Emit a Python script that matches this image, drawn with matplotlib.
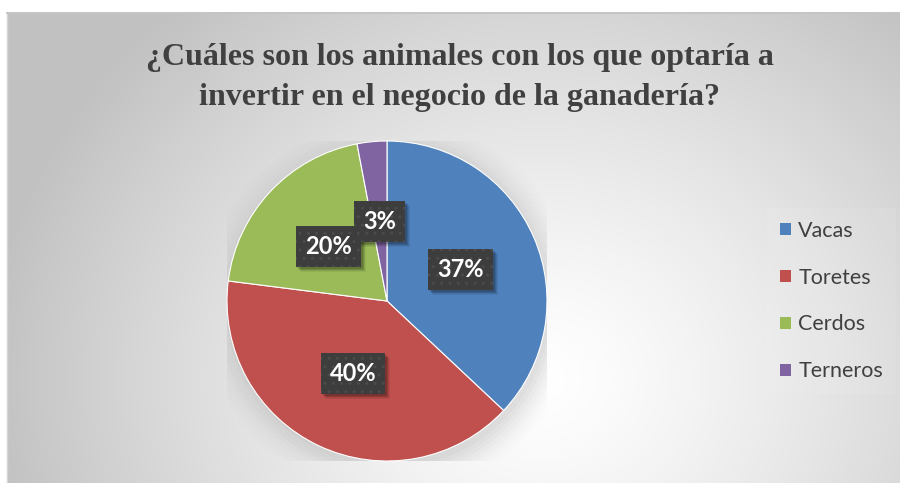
import numpy as np
import matplotlib
matplotlib.use("Agg")
import matplotlib.pyplot as plt
from matplotlib.patches import Patch, Rectangle, Circle
from matplotlib.transforms import IdentityTransform

# ---- data ----
categories = ["Vacas", "Toretes", "Cerdos", "Terneros"]
values = [37, 40, 20, 3]
colors = ["#4F81BD", "#C0504D", "#9BBB59", "#8064A2"]
title_lines = ["¿Cuáles son los animales con los que optaría a",
               "invertir en el negocio de la ganadería?"]

W, H = 900, 483
fig = plt.figure(figsize=(W / 100, H / 100), dpi=100)
fig.patch.set_facecolor("white")

# ---- chart-area background (radial gradient) ----
x0, y0, x1, y1 = 7, 0, 900, 470  # pixels from bottom-left
bg = fig.add_axes([x0 / W, y0 / H, (x1 - x0) / W, (y1 - y0) / H])
bg.set_zorder(-10)
nx, ny = 450, 240
xx, yy = np.meshgrid(np.linspace(0, 1, nx), np.linspace(0, 1, ny))
cx, cy = 0.6, 0.22
d = np.sqrt(((xx - cx) / 0.62) ** 2 + ((yy - cy) / 1.05) ** 2)
d = np.clip(d, 0, 1)
val = 1.0 - 0.24 * d ** 1.3
img = np.dstack([val, val, val])
bg.imshow(img, origin="lower", aspect="auto", extent=[0, 1, 0, 1])
bg.set_xlim(0, 1); bg.set_ylim(0, 1)
bg.axis("off")
fig.add_artist(plt.Line2D([x0 / W, x0 / W], [0, y1 / H], color="#d6d6d6", lw=1))
fig.add_artist(plt.Line2D([x0 / W, 1], [y1 / H, y1 / H], color="#c4c4c4", lw=1.4))

# ---- pie ----
pcx, pcy, r = 387, H - 301, 160
ax = fig.add_axes([(pcx - r) / W, (pcy - r) / H, 2 * r / W, 2 * r / H])
ax.set_zorder(1)
# soft shadow
for i, a in enumerate(np.linspace(0.05, 0.01, 8)):
    ax.add_patch(Circle((0.02, -0.04), 1.0 + 0.025 * i, color="#808080", alpha=a, lw=0, zorder=0))
wedges, texts, autotexts = ax.pie(
    values, colors=colors, startangle=90, counterclock=False,
    autopct="%1.0f%%", pctdistance=0.5,
    wedgeprops=dict(linewidth=0.8, edgecolor="white"),
    textprops=dict(color="white", fontsize=17, fontweight="bold", family="Lato"),
)
for w in wedges:
    w.set_zorder(2)
for t in autotexts:
    t.set_zorder(5)
    t.set_bbox(dict(boxstyle="square,pad=0.38", facecolor="#3d3d3d", edgecolor="#4b4b4b",
                    hatch="..", linewidth=0))
ax.set_xlim(-1, 1); ax.set_ylim(-1, 1)
ax.set_aspect("equal")
ax.axis("off")

# shadows of the label boxes (pixel coords)
fig.canvas.draw()
for t in autotexts:
    bb = t.get_bbox_patch().get_window_extent()
    for dx, a in [(5, 0.06), (4, 0.09), (3, 0.12), (2, 0.15)]:
        ax.add_artist(Rectangle((bb.x0 + dx, bb.y0 - dx), bb.width, bb.height,
                                transform=IdentityTransform(), facecolor="black", alpha=a,
                                lw=0, zorder=4, clip_on=False))

# ---- title (two centred lines) ----
for line, yc in zip(title_lines, [58, 97]):
    fig.text(460 / W, 1 - yc / H, line, ha="center", va="center", fontsize=23,
             fontweight="bold", family="Liberation Serif", color="#404040")

# ---- legend ----
handles = [Patch(facecolor=c, edgecolor="none") for c in colors]
leg = fig.legend(handles, categories, loc="center left", bbox_to_anchor=(767 / W, 1 - 301 / H),
                 frameon=True, prop=dict(family="Lato", size=15.5), labelcolor="#404040",
                 handlelength=0.5, handleheight=0.5, handletextpad=0.35, labelspacing=1.25,
                 borderpad=0.6, borderaxespad=0, fancybox=False)
leg.get_frame().set_facecolor("white")
leg.get_frame().set_alpha(0.08)
leg.get_frame().set_linewidth(0)

fig.savefig("out.png", dpi=100)
